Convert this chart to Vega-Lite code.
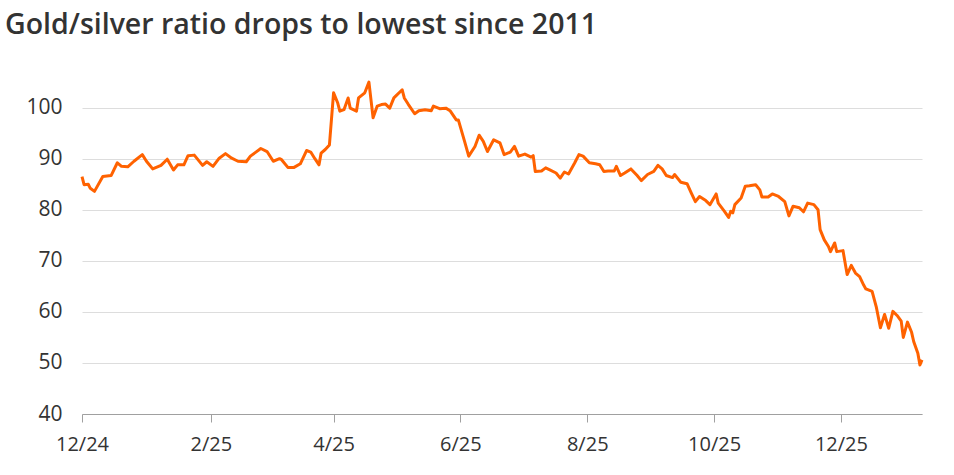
{
  "$schema": "https://vega.github.io/schema/vega-lite/v6.json",
  "width": 840,
  "height": 337,
  "autosize": "none",
  "padding": {"left": 82, "top": 77, "right": 32, "bottom": 61},
  "background": "white",
  "title": {
    "text": "Gold/silver ratio drops to lowest since 2011",
    "anchor": "start",
    "frame": "group",
    "dx": -77,
    "offset": 15,
    "baseline": "alphabetic",
    "font": "Open Sans",
    "fontSize": 28.5,
    "fontWeight": 600,
    "color": "#333333"
  },
  "config": {
    "view": {"stroke": null},
    "axis": {"labelFont": "Open Sans", "labelColor": "#333333", "labelFontSize": 21}
  },
  "data": {
    "values": [
      {"date": "2024-12-01", "ratio": 86.5},
      {"date": "2024-12-02", "ratio": 84.9},
      {"date": "2024-12-04", "ratio": 85.0},
      {"date": "2024-12-05", "ratio": 84.2},
      {"date": "2024-12-07", "ratio": 83.6},
      {"date": "2024-12-11", "ratio": 86.5},
      {"date": "2024-12-15", "ratio": 86.7},
      {"date": "2024-12-18", "ratio": 89.2},
      {"date": "2024-12-20", "ratio": 88.5},
      {"date": "2024-12-23", "ratio": 88.4},
      {"date": "2024-12-26", "ratio": 89.5},
      {"date": "2024-12-30", "ratio": 90.8},
      {"date": "2025-01-01", "ratio": 89.5},
      {"date": "2025-01-04", "ratio": 88.0},
      {"date": "2025-01-08", "ratio": 88.7},
      {"date": "2025-01-11", "ratio": 89.9},
      {"date": "2025-01-14", "ratio": 87.8},
      {"date": "2025-01-16", "ratio": 88.8},
      {"date": "2025-01-19", "ratio": 88.8},
      {"date": "2025-01-21", "ratio": 90.6},
      {"date": "2025-01-24", "ratio": 90.7},
      {"date": "2025-01-28", "ratio": 88.7},
      {"date": "2025-01-30", "ratio": 89.4},
      {"date": "2025-02-02", "ratio": 88.5},
      {"date": "2025-02-05", "ratio": 90.1},
      {"date": "2025-02-08", "ratio": 91.0},
      {"date": "2025-02-11", "ratio": 90.1},
      {"date": "2025-02-14", "ratio": 89.5},
      {"date": "2025-02-18", "ratio": 89.4},
      {"date": "2025-02-20", "ratio": 90.5},
      {"date": "2025-02-25", "ratio": 92.0},
      {"date": "2025-02-28", "ratio": 91.4},
      {"date": "2025-03-03", "ratio": 89.5},
      {"date": "2025-03-06", "ratio": 90.0},
      {"date": "2025-03-07", "ratio": 89.8},
      {"date": "2025-03-10", "ratio": 88.3},
      {"date": "2025-03-13", "ratio": 88.3},
      {"date": "2025-03-16", "ratio": 89.0},
      {"date": "2025-03-19", "ratio": 91.6},
      {"date": "2025-03-21", "ratio": 91.3},
      {"date": "2025-03-23", "ratio": 90.0},
      {"date": "2025-03-25", "ratio": 88.8},
      {"date": "2025-03-26", "ratio": 91.1},
      {"date": "2025-03-28", "ratio": 91.8},
      {"date": "2025-03-30", "ratio": 92.7},
      {"date": "2025-04-01", "ratio": 102.9},
      {"date": "2025-04-03", "ratio": 100.9},
      {"date": "2025-04-04", "ratio": 99.3},
      {"date": "2025-04-06", "ratio": 99.6},
      {"date": "2025-04-08", "ratio": 101.9},
      {"date": "2025-04-09", "ratio": 99.9},
      {"date": "2025-04-12", "ratio": 99.3},
      {"date": "2025-04-13", "ratio": 101.9},
      {"date": "2025-04-16", "ratio": 102.9},
      {"date": "2025-04-18", "ratio": 105.0},
      {"date": "2025-04-20", "ratio": 98.0},
      {"date": "2025-04-22", "ratio": 100.3},
      {"date": "2025-04-24", "ratio": 100.6},
      {"date": "2025-04-26", "ratio": 100.7},
      {"date": "2025-04-28", "ratio": 99.9},
      {"date": "2025-04-30", "ratio": 101.9},
      {"date": "2025-05-04", "ratio": 103.5},
      {"date": "2025-05-05", "ratio": 101.9},
      {"date": "2025-05-07", "ratio": 100.6},
      {"date": "2025-05-10", "ratio": 98.8},
      {"date": "2025-05-12", "ratio": 99.4},
      {"date": "2025-05-15", "ratio": 99.6},
      {"date": "2025-05-18", "ratio": 99.4},
      {"date": "2025-05-19", "ratio": 100.3},
      {"date": "2025-05-22", "ratio": 99.8},
      {"date": "2025-05-25", "ratio": 99.9},
      {"date": "2025-05-27", "ratio": 99.4},
      {"date": "2025-05-30", "ratio": 97.6},
      {"date": "2025-05-31", "ratio": 97.6},
      {"date": "2025-06-03", "ratio": 93.4},
      {"date": "2025-06-05", "ratio": 90.5},
      {"date": "2025-06-08", "ratio": 92.4},
      {"date": "2025-06-10", "ratio": 94.6},
      {"date": "2025-06-12", "ratio": 93.4},
      {"date": "2025-06-14", "ratio": 91.4},
      {"date": "2025-06-17", "ratio": 93.7},
      {"date": "2025-06-20", "ratio": 93.1},
      {"date": "2025-06-22", "ratio": 90.8},
      {"date": "2025-06-25", "ratio": 91.3},
      {"date": "2025-06-27", "ratio": 92.4},
      {"date": "2025-06-29", "ratio": 90.5},
      {"date": "2025-07-02", "ratio": 90.9},
      {"date": "2025-07-05", "ratio": 90.3},
      {"date": "2025-07-06", "ratio": 90.6},
      {"date": "2025-07-07", "ratio": 87.5},
      {"date": "2025-07-10", "ratio": 87.6},
      {"date": "2025-07-12", "ratio": 88.2},
      {"date": "2025-07-14", "ratio": 87.8},
      {"date": "2025-07-17", "ratio": 87.2},
      {"date": "2025-07-19", "ratio": 86.2},
      {"date": "2025-07-21", "ratio": 87.4},
      {"date": "2025-07-23", "ratio": 87.0},
      {"date": "2025-07-26", "ratio": 89.2},
      {"date": "2025-07-28", "ratio": 90.8},
      {"date": "2025-07-30", "ratio": 90.5},
      {"date": "2025-08-02", "ratio": 89.2},
      {"date": "2025-08-05", "ratio": 89.0},
      {"date": "2025-08-07", "ratio": 88.8},
      {"date": "2025-08-09", "ratio": 87.5},
      {"date": "2025-08-11", "ratio": 87.6},
      {"date": "2025-08-14", "ratio": 87.6},
      {"date": "2025-08-15", "ratio": 88.5},
      {"date": "2025-08-17", "ratio": 86.7},
      {"date": "2025-08-19", "ratio": 87.2},
      {"date": "2025-08-22", "ratio": 88.0},
      {"date": "2025-08-25", "ratio": 86.7},
      {"date": "2025-08-27", "ratio": 85.7},
      {"date": "2025-08-30", "ratio": 86.9},
      {"date": "2025-09-02", "ratio": 87.5},
      {"date": "2025-09-04", "ratio": 88.7},
      {"date": "2025-09-06", "ratio": 88.0},
      {"date": "2025-09-08", "ratio": 86.7},
      {"date": "2025-09-11", "ratio": 86.3},
      {"date": "2025-09-12", "ratio": 86.9},
      {"date": "2025-09-15", "ratio": 85.4},
      {"date": "2025-09-18", "ratio": 85.1},
      {"date": "2025-09-20", "ratio": 83.3},
      {"date": "2025-09-22", "ratio": 81.6},
      {"date": "2025-09-24", "ratio": 82.6},
      {"date": "2025-09-27", "ratio": 81.8},
      {"date": "2025-09-29", "ratio": 81.0},
      {"date": "2025-10-02", "ratio": 83.1},
      {"date": "2025-10-03", "ratio": 81.3},
      {"date": "2025-10-06", "ratio": 79.7},
      {"date": "2025-10-08", "ratio": 78.5},
      {"date": "2025-10-09", "ratio": 79.7},
      {"date": "2025-10-10", "ratio": 79.4},
      {"date": "2025-10-11", "ratio": 81.0},
      {"date": "2025-10-14", "ratio": 82.3},
      {"date": "2025-10-16", "ratio": 84.6},
      {"date": "2025-10-18", "ratio": 84.7},
      {"date": "2025-10-21", "ratio": 84.9},
      {"date": "2025-10-23", "ratio": 83.9},
      {"date": "2025-10-24", "ratio": 82.5},
      {"date": "2025-10-27", "ratio": 82.5},
      {"date": "2025-10-29", "ratio": 83.1},
      {"date": "2025-11-01", "ratio": 82.6},
      {"date": "2025-11-04", "ratio": 81.6},
      {"date": "2025-11-06", "ratio": 78.8},
      {"date": "2025-11-08", "ratio": 80.7},
      {"date": "2025-11-11", "ratio": 80.4},
      {"date": "2025-11-13", "ratio": 79.6},
      {"date": "2025-11-15", "ratio": 81.3},
      {"date": "2025-11-18", "ratio": 81.0},
      {"date": "2025-11-20", "ratio": 80.0},
      {"date": "2025-11-21", "ratio": 76.1},
      {"date": "2025-11-23", "ratio": 74.1},
      {"date": "2025-11-25", "ratio": 72.8},
      {"date": "2025-11-26", "ratio": 71.8},
      {"date": "2025-11-28", "ratio": 73.5},
      {"date": "2025-11-29", "ratio": 71.8},
      {"date": "2025-12-02", "ratio": 72.0},
      {"date": "2025-12-04", "ratio": 67.3},
      {"date": "2025-12-06", "ratio": 69.1},
      {"date": "2025-12-08", "ratio": 67.6},
      {"date": "2025-12-10", "ratio": 66.9},
      {"date": "2025-12-12", "ratio": 65.2},
      {"date": "2025-12-13", "ratio": 64.5},
      {"date": "2025-12-16", "ratio": 64.0},
      {"date": "2025-12-17", "ratio": 62.5},
      {"date": "2025-12-18", "ratio": 61.0},
      {"date": "2025-12-20", "ratio": 56.9},
      {"date": "2025-12-22", "ratio": 59.5},
      {"date": "2025-12-24", "ratio": 56.8},
      {"date": "2025-12-26", "ratio": 60.1},
      {"date": "2025-12-28", "ratio": 59.3},
      {"date": "2025-12-30", "ratio": 58.2},
      {"date": "2025-12-31", "ratio": 55.0},
      {"date": "2026-01-02", "ratio": 58.0},
      {"date": "2026-01-04", "ratio": 56.0},
      {"date": "2026-01-05", "ratio": 54.2},
      {"date": "2026-01-07", "ratio": 51.9},
      {"date": "2026-01-08", "ratio": 49.6},
      {"date": "2026-01-09", "ratio": 50.6}
    ]
  },
  "mark": {"type": "line", "color": "#ff6200", "strokeWidth": 3, "strokeJoin": "round", "clip": false},
  "encoding": {
    "x": {
      "field": "date",
      "type": "temporal",
      "scale": {
        "type": "utc",
        "domain": [
          {"year": 2024, "month": 12, "date": 1, "utc": true},
          {"year": 2026, "month": 1, "date": 9, "utc": true}
        ]
      },
      "axis": {
        "title": null,
        "values": [
          {"year": 2024, "month": 12, "date": 1, "utc": true},
          {"year": 2025, "month": 2, "date": 1, "utc": true},
          {"year": 2025, "month": 4, "date": 1, "utc": true},
          {"year": 2025, "month": 6, "date": 1, "utc": true},
          {"year": 2025, "month": 8, "date": 1, "utc": true},
          {"year": 2025, "month": 10, "date": 1, "utc": true},
          {"year": 2025, "month": 12, "date": 1, "utc": true}
        ],
        "format": "%-m/%y",
        "grid": false,
        "labelFlush": false,
        "labelOverlap": false,
        "domainColor": "#a0a0a0",
        "domainWidth": 1,
        "tickColor": "#a0a0a0",
        "tickSize": 8,
        "labelPadding": 12,
        "labelFontSize": 20
      }
    },
    "y": {
      "field": "ratio",
      "type": "quantitative",
      "scale": {"domain": [40, 106], "nice": false, "zero": false},
      "axis": {
        "title": null,
        "values": [40, 50, 60, 70, 80, 90, 100],
        "domain": false,
        "ticks": false,
        "labelPadding": 20,
        "gridColor": "#dddddd",
        "gridWidth": 1
      }
    }
  }
}
